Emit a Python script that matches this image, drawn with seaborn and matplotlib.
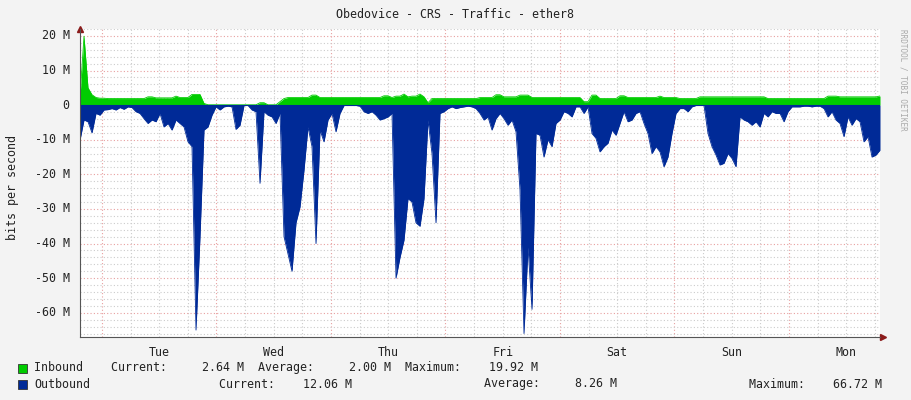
import numpy as np
import pandas as pd
import seaborn as sns
import matplotlib.pyplot as plt
from matplotlib.ticker import MultipleLocator

# sampled every ~0.84 h, from Mon 19:24 to Mon 19:00 of next week (hours from Tue 00:00)
outbound = [
    10.1, 4.3, 4.8, 8, 2.4, 2.9, 1.4, 1.3, 1.0, 1.4, 0.7, 1.2, 0.5, 0.7, 1.9, 2.4, 3.9, 5.3, 4.3, 4.8,
    2.4, 6.3, 5.3, 7.2, 4.3, 5.3, 6.3, 10.6, 12, 65, 38, 7.2, 6.3, 2.9, 0.5, 1.4, 0.5, 0.3, 0.5, 7,
    5.8, 0.1, 0.1, 1.4, 1.9, 22.6, 1.9, 2.9, 3.4, 5.3,
    2.4, 38, 43, 48, 34, 29.4, 18.8, 6.3, 12, 40, 7.2, 10.6, 4.3, 2.4, 7.7, 2.4, 0.1, 0.1, 0.1, 0.1,
    0.3, 1.9, 2.4, 1.9, 2.9, 4.3, 3.9, 3.4, 2.4, 50, 44, 39, 27, 28, 34, 35, 27, 4.3, 14, 34,
    2.4, 1.9, 1.0, 0.5, 1.0, 0.7, 0.5, 0.3, 0.5, 1.0,
    2.4, 4.3, 3.4, 7.2, 3.9, 2.4, 3.9, 5.8, 4.3, 7.7, 24.5, 66, 41, 59, 8.2, 8.7, 15, 10, 12, 5.3,
    4.3, 1.9, 2.4, 3.4, 0.5, 0.5, 2.4, 0.5, 8.2, 9.6, 13.5, 12, 11, 7.2, 8.7, 5.3, 1.9, 4.8, 4.3, 2.4,
    1.9, 5.3, 8.2, 14, 12, 13.5, 17.8, 15, 8.2, 2.4,
    1.0, 1.0, 1.9, 0.5, 0.1, 0.1, 0.1, 8.2, 12, 14.4, 17.3, 16.8, 14, 15.4, 17.8, 3.4, 4.3, 4.8, 5.8, 4.8,
    6.3, 2.4, 3.4, 1.9, 2.4, 2.4, 4.8, 1.9, 0.5, 0.5, 0.5, 0.3, 0.3, 0.5, 0.3, 0.3, 1.0, 3.4, 1.9, 4.3,
    5.3, 9.1, 3.4, 5.8, 3.9, 4.8, 10.6, 9.1, 15, 14.4, 13,
]
inbound = [
    2.4, 19.9, 5, 3, 2.2, 2, 2, 1.9, 1.9, 1.9, 1.9, 1.9, 1.9, 1.9, 1.9, 1.9, 1.9, 2.4, 2.4, 2.1,
    2.1, 2.1, 2.1, 2.1, 2.6, 2.2, 2.2, 2.2, 3.1, 3.1, 3.1, 0.5, 0.1, 0.1, 0.1, 0.1, 0.1, 0.1, 0.1, 0.1,
    0.1, 0.1, 0.1, 0.1, 0.1, 0.7, 0.7, 0.1, 0.1, 0.1,
    1, 1.9, 2.2, 2.2, 2.2, 2.2, 2.2, 2.2, 2.9, 2.9, 2.2, 2.2, 2.2, 2.2, 2.2, 2.2, 2.2, 2.2, 2.2, 2.2,
    2.2, 2.2, 2.2, 2.2, 2.2, 2.2, 2.7, 2.7, 2.2, 2.6, 2.6, 3.2, 2.4, 2.6, 2.6, 3.2, 2.4, 0.7, 1.9, 1.9,
    1.9, 1.9, 1.9, 1.9, 1.9, 1.9, 1.9, 1.9, 1.9, 1.9,
    2.2, 2.2, 2.2, 2.2, 3, 3, 2.4, 2.4, 2.4, 2.4, 2.9, 2.9, 2.9, 2.2, 2.2, 2.2, 2.2, 2.2, 2.2, 2.2,
    2.2, 2.2, 2.2, 2.2, 2.2, 2.2, 1.0, 1.0, 2.9, 2.9, 1.9, 1.9, 1.9, 1.9, 1.9, 2.7, 2.7, 2.2, 2.2, 2.2,
    2.2, 2.2, 2.2, 2.2, 2.2, 2.6, 2.2, 2.2, 2.2, 2.2,
    1.9, 1.9, 1.9, 1.9, 1.9, 2.4, 2.4, 2.4, 2.4, 2.4, 2.4, 2.4, 2.4, 2.4, 2.4, 2.4, 2.4, 2.4, 2.4, 2.4,
    2.4, 2.4, 1.9, 1.9, 1.9, 1.9, 1.9, 1.9, 1.9, 1.9, 1.9, 1.9, 1.9, 1.9, 1.9, 1.9, 1.9, 2.6, 2.6, 2.6,
    2.4, 2.4, 2.4, 2.4, 2.4, 2.4, 2.4, 2.4, 2.4, 2.4, 2.64,
]
day_labels = ["Tue", "Wed", "Thu", "Fri", "Sat", "Sun", "Mon"]
y_ticks = [20, 10, 0, -10, -20, -30, -40, -50, -60]
y_labels = ["20 M", "10 M", "0", "-10 M", "-20 M", "-30 M", "-40 M", "-50 M", "-60 M"]

t_start, t_end = -4.6, 163.1
hours = np.linspace(t_start, t_end, len(outbound))
df = pd.DataFrame({"hours": hours, "in": inbound, "out": -np.array(outbound)})

sns.set_style("white")
plt.rcParams["font.family"] = ["DejaVu Sans Mono"]

fig = plt.figure(figsize=(9.11, 4.0), dpi=100, facecolor="#f3f3f3")
ax = fig.add_axes([80 / 911, 63 / 400, 800 / 911, 308 / 400])
ax.set_facecolor("white")

ax.fill_between(df["hours"], 0, df["in"], color="#00cc00", lw=0)
ax.fill_between(df["hours"], 0, df["out"], color="#002a97", lw=0)
sns.lineplot(data=df, x="hours", y="in", ax=ax, color="#00cc00", lw=0.6)
sns.lineplot(data=df, x="hours", y="out", ax=ax, color="#002a97", lw=0.6)
ax.set_xlabel("")
ax.set_ylabel("")

ax.set_xlim(t_start, t_end)
ax.set_ylim(-67, 22)
ax.xaxis.set_minor_locator(MultipleLocator(6))
ax.xaxis.set_major_locator(MultipleLocator(24))
ax.yaxis.set_minor_locator(MultipleLocator(2))
ax.yaxis.set_major_locator(MultipleLocator(10))
ax.grid(which="minor", color="#cccccc", ls=(0, (1, 2)), lw=0.8)
ax.grid(which="major", color="#e8a0a0", ls=(0, (1, 2)), lw=0.8)
ax.set_axisbelow(True)
ax.tick_params(which="both", length=0, labelbottom=False, labelleft=False)
for s in ["top", "right"]:
    ax.spines[s].set_visible(False)
ax.spines["left"].set_color("#555555")
ax.spines["bottom"].set_color("#555555")
ax.axhline(0, color="#002a97", lw=0.8)

for i, d in enumerate(day_labels):
    ax.text(12 + 24 * i, -69.5, d, ha="center", va="top", fontsize=8.4, color="#222222")
for v, lab in zip(y_ticks, y_labels):
    ax.text(t_start - 2.2, v, lab, ha="right", va="center", fontsize=8.4, color="#222222")
ax.plot([t_start], [22], marker="^", color="#8b1a1a", ms=4, clip_on=False)
ax.plot([t_end + 0.6], [-67], marker=">", color="#8b1a1a", ms=4, clip_on=False)

fig.text(0.5, 1 - 14 / 400, "Obedovice - CRS - Traffic - ether8", ha="center", va="center",
         fontsize=8.4, color="#222222")
fig.text(13 / 911, 1 - 187 / 400, "bits per second", rotation=90, ha="center", va="center",
         fontsize=8.4, color="#222222")
fig.text(903 / 911, 1 - 80 / 400, "RRDTOOL / TOBI OETIKER", rotation=270, ha="center", va="center",
         fontsize=5.5, color="#aaaaaa")

fig.patches.append(plt.Rectangle((18 / 911, 1 - 373 / 400), 9 / 911, 9 / 400, transform=fig.transFigure,
                                 facecolor="#00cc00", edgecolor="#333333", lw=0.6))
fig.patches.append(plt.Rectangle((18 / 911, 1 - 389 / 400), 9 / 911, 9 / 400, transform=fig.transFigure,
                                 facecolor="#002a97", edgecolor="#333333", lw=0.6))
row1 = 1 - 368 / 400
row2 = 1 - 384 / 400
fig.text(34 / 911, row1, "Inbound    Current:     2.64 M  Average:     2.00 M  Maximum:    19.92 M",
         va="center", fontsize=8.4, color="#222222")
fig.text(34 / 911, row2, "Outbound", va="center", fontsize=8.4, color="#222222")
fig.text(219 / 911, row2, "Current:    12.06 M", va="center", fontsize=8.4, color="#222222")
fig.text(484 / 911, row2, "Average:     8.26 M", va="center", fontsize=8.4, color="#222222")
fig.text(749 / 911, row2, "Maximum:    66.72 M", va="center", fontsize=8.4, color="#222222")

fig.savefig("out.png", dpi=100, facecolor=fig.get_facecolor())
